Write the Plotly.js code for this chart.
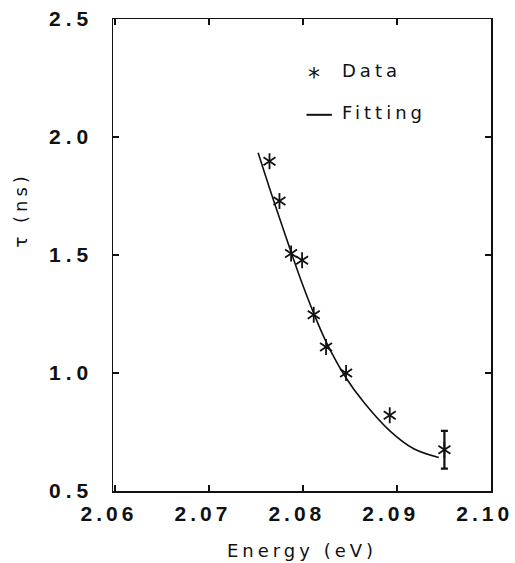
<!DOCTYPE html>
<html>
<head>
<meta charset="utf-8">
<script src="https://cdn.plot.ly/plotly-3.0.1.min.js"></script>
<style>
  html, body { margin: 0; padding: 0; background: #fff; }
  #chart { width: 515px; height: 563px; }
  .ytick text { letter-spacing: 5px; }
  .xtick text { letter-spacing: 4px; }
  .g-xtitle text { letter-spacing: 4px; }
  .annotation-text { letter-spacing: 4px; }
</style>
</head>
<body>
<div id="chart"></div>
<script>
// Measured data points (Energy in eV, lifetime tau in ns)
const dataEnergy = [2.07645, 2.07751, 2.07875, 2.07992, 2.08116, 2.08247, 2.0846, 2.08925, 2.09507];
const dataTau    = [1.897, 1.729, 1.506, 1.478, 1.247, 1.110, 1.000, 0.821, 0.675];
// Error bar on the last data point (ns)
const lastPointError = [0.08];
// Fitting curve
const fitEnergy = [2.07524, 2.07613, 2.07702, 2.07878, 2.07997, 2.08117, 2.08248, 2.08457, 2.08649, 2.08926, 2.09181, 2.09447];
const fitTau    = [1.933, 1.823, 1.715, 1.509, 1.375, 1.252, 1.132, 0.981, 0.876, 0.755, 0.679, 0.642];
// Tick labels
const xTickVals = [2.06, 2.07, 2.08, 2.09, 2.10];
const xTickText = ["2.06", "2.07", "2.08", "2.09", "2.10"];
const yTickVals = [0.5, 1.0, 1.5, 2.0, 2.5];
const yTickText = ["0.5", "1.0", "1.5", "2.0", "2.5"];
const legendLabels = ["Data", "Fitting"];
const xTitle = "Energy (eV)";
const yTitle = "\u03c4 (ns)";

const ink = "#111";
const tickFont = { family: "Liberation Sans, Arial, sans-serif", size: 21, color: ink, weight: "bold" };
const textFont = { family: "DejaVu Sans, sans-serif", size: 18, color: ink };

const traces = [
  { x: fitEnergy, y: fitTau, type: "scatter", mode: "lines",
    line: { color: ink, width: 1.6, shape: "spline", smoothing: 1 }, showlegend: false, hoverinfo: "skip" },
  { x: dataEnergy, y: dataTau, type: "scatter", mode: "markers",
    marker: { symbol: "y-up-open", size: 10, color: ink, line: { color: ink, width: 1.8 } }, showlegend: false },
  { x: dataEnergy, y: dataTau, type: "scatter", mode: "markers",
    marker: { symbol: "y-down-open", size: 10, color: ink, line: { color: ink, width: 1.8 } }, showlegend: false },
  { x: dataEnergy.slice(-1), y: dataTau.slice(-1), type: "scatter", mode: "markers",
    marker: { size: 1, opacity: 0 },
    error_y: { type: "data", array: lastPointError, visible: true, color: ink, thickness: 2.2, width: 3.5 },
    showlegend: false }
];

const axisCommon = {
  showgrid: false, zeroline: false, showline: true, linecolor: ink, linewidth: 1.5,
  mirror: "ticks", ticks: "inside", ticklen: 6, tickwidth: 1.5, tickcolor: ink,
  tickfont: tickFont, ticklabeloverflow: "allow"
};

const layout = {
  width: 515, height: 563,
  margin: { l: 113, r: 24, t: 19, b: 72 },
  paper_bgcolor: "#fff", plot_bgcolor: "#fff",
  showlegend: false,
  xaxis: Object.assign({}, axisCommon, {
    range: [2.05979, 2.10003], tickmode: "array", tickvals: xTickVals, ticktext: xTickText,
    ticklabelstandoff: 3, ticklabelshift: -6,
    title: { text: xTitle, font: textFont, standoff: 20 }
  }),
  yaxis: Object.assign({}, axisCommon, {
    range: [0.5, 2.5], tickmode: "array", tickvals: yTickVals, ticktext: yTickText,
    ticklabelstandoff: 14
  }),
  annotations: [
    { xref: "paper", yref: "paper", x: -0.245, y: 0.595, text: yTitle, textangle: -90, showarrow: false,
      xanchor: "center", yanchor: "middle", font: textFont },
    { xref: "paper", yref: "paper", x: 0.536, y: 0.878, text: "*", showarrow: false,
      xanchor: "center", yanchor: "middle", font: { family: "DejaVu Sans, sans-serif", size: 24, color: ink } },
    { xref: "paper", yref: "paper", x: 0.600, y: 0.890, text: legendLabels[0], showarrow: false,
      xanchor: "left", yanchor: "middle", font: textFont },
    { xref: "paper", yref: "paper", x: 0.600, y: 0.801, text: legendLabels[1], showarrow: false,
      xanchor: "left", yanchor: "middle", font: textFont }
  ],
  shapes: [
    { type: "line", xref: "paper", yref: "paper", x0: 0.512, x1: 0.579, y0: 0.797, y1: 0.797,
      line: { color: ink, width: 2 } }
  ]
};

Plotly.newPlot("chart", traces, layout, { staticPlot: true, displayModeBar: false });
</script>
</body>
</html>
